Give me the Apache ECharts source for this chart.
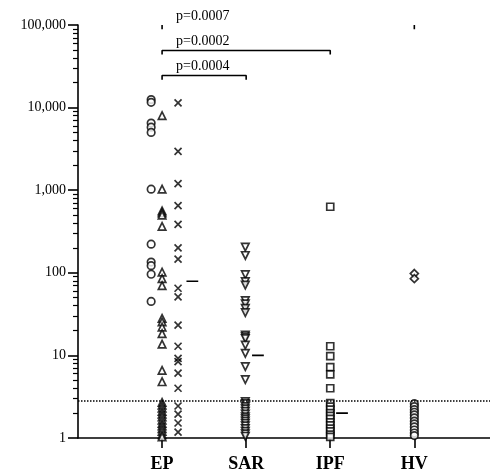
<!DOCTYPE html>
<html>
<head>
<meta charset="utf-8">
<script src="https://cdn.jsdelivr.net/npm/echarts@6/dist/echarts.min.js"></script>
<style>html,body{margin:0;padding:0;background:#fff}#c{width:490px;height:476px}</style>
</head>
<body>
<div id="c"></div>
<script>
// ---- data ----
const categories = ['EP', 'SAR', 'IPF', 'HV'];
const yTickValues = [1, 10, 100, 1000, 10000, 100000];

const epCircles = [12500, 11600, 6500, 5800, 5000, 1030, 222, 135, 122, 96, 45];
const epTriangles = [8000, 1030, 560, 530, 500, 365, 102, 85, 70, 28, 25.5, 22, 18.4, 13.7, 6.6, 4.8,
  2.7, 2.5, 2.3, 2.1, 1.95, 1.8, 1.65, 1.5, 1.4, 1.3, 1.2, 1.1, 1.03];
const epCrosses = [11400, 2950, 1200, 650, 385, 200, 146, 65, 51, 23.3, 12.9, 9.2, 8.4, 6.1, 4.0,
  2.44, 1.95, 1.52, 1.18];
const sarValues = [205, 162, 95, 78, 71, 46, 42, 37, 33, 17.6, 16.8, 16, 13.3, 10.6, 7.3, 5.1,
  2.75, 2.6, 2.4, 2.25, 2.1, 1.95, 1.8, 1.7, 1.6, 1.5, 1.4, 1.3, 1.2, 1.12, 1.05];
const ipfValues = [630, 12.9, 9.8, 7.2, 5.9, 4.0,
  2.65, 2.4, 2.2, 2.0, 1.85, 1.7, 1.55, 1.42, 1.3, 1.2, 1.1, 1.03];
const hvDiamonds = [98, 85];
const hvCircles = [2.6, 2.4, 2.2, 2.05, 1.9, 1.75, 1.6, 1.48, 1.36, 1.25, 1.15, 1.07];
const medians = [79, 10, 2];          // EP, SAR, IPF
const cutoffValue = 2.86;
const comparisons = [
  { from: 'EP', to: 'HV',  p: 'p=0.0007', level: 100000 },
  { from: 'EP', to: 'IPF', p: 'p=0.0002', level: 49200 },
  { from: 'EP', to: 'SAR', p: 'p=0.0004', level: 24500 }
];

// ---- layout/style constants ----
const FONT = 'Liberation Serif';
const X_MAX = 4.9;
const catX = c => categories.indexOf(c) + 1;
const medianSpan = [[0.29, 0.43], [0.07, 0.21], [0.07, 0.21]];
const crossPath = 'path://M0,0L10,10M10,0L0,10';
const baseStyle = { color: '#fff', borderColor: '#000', borderWidth: 1.7 };

const minorTicks = [];
for (let d = 1; d < 100000; d *= 10) for (let k = 2; k <= 9; k++) minorTicks.push(d * k);

function scatter(values, x, symbol, size, extra) {
  return Object.assign({
    type: 'scatter', xAxisIndex: 0, yAxisIndex: 0,
    data: values.map(v => [x, v]),
    symbol: symbol, symbolSize: size,
    itemStyle: Object.assign({}, baseStyle),
    emphasis: { disabled: true }, z: 3
  }, extra || {});
}

const series = [
  scatter(epCircles, 1 - 0.13, 'circle', 7.5),
  scatter(epTriangles, 1, 'triangle', 7.5),
  scatter(epCrosses, 1 + 0.19, crossPath, 7, { itemStyle: { color: 'none', borderColor: '#000', borderWidth: 1.7 } }),
  scatter(sarValues, 2 - 0.01, 'triangle', 7.5, { symbolRotate: 180 }),
  scatter(ipfValues, 3, 'rect', 7),
  scatter(hvDiamonds, 4, 'diamond', 8),
  scatter(hvCircles, 4, 'circle', 7.5)
];

medians.forEach((m, i) => {
  series.push({
    type: 'line', data: [[i + 1 + medianSpan[i][0], m], [i + 1 + medianSpan[i][1], m]],
    symbol: 'none', lineStyle: { color: '#000', width: 1.6 }, silent: true, z: 2
  });
});

// cutoff line
series.push({
  type: 'line', data: [], silent: true,
  markLine: {
    silent: true, symbol: 'none', label: { show: false },
    lineStyle: { color: '#000', type: [1.5, 1.5], width: 1.5 },
    data: [{ yAxis: cutoffValue }]
  }
});

// significance brackets
const TICK_FACTOR = 0.89;
comparisons.forEach(c => {
  const x0 = catX(c.from), x1 = catX(c.to);
  const lo = c.level * TICK_FACTOR;
  const data = c.level < 100000
    ? [[x0, lo], [x0, c.level], [x1, c.level], [x1, lo]]
    : [[x0, lo], [x0, c.level], '-', [x1, c.level], [x1, lo]];
  series.push({
    type: 'line', data: data, symbol: 'none', connectNulls: false, clip: false,
    lineStyle: { color: '#000', width: 1.6 }, silent: true
  });
});

const chart = echarts.init(document.getElementById('c'), null, { renderer: 'canvas' });
chart.setOption({
  animation: false,
  backgroundColor: '#fff',
  grid: { left: 78, right: 0, top: 25, bottom: 38 },
  xAxis: {
    type: 'value', min: 0, max: X_MAX,
    axisLine: { show: true, onZero: false, lineStyle: { color: '#000', width: 1.6 } },
    axisTick: { show: true, customValues: [1, 2, 3, 4], length: 10, lineStyle: { color: '#000', width: 1.6 } },
    axisLabel: {
      customValues: [1, 2, 3, 4], formatter: v => categories[Math.round(v) - 1] || '',
      fontFamily: FONT, fontWeight: 'bold', fontSize: 18, color: '#000', margin: 17
    },
    splitLine: { show: false }
  },
  yAxis: [{
    type: 'log', logBase: 10, min: 1, max: 100000,
    axisLine: { show: true, lineStyle: { color: '#000', width: 1.6 } },
    axisTick: { show: true, customValues: yTickValues, length: 10, lineStyle: { color: '#000', width: 1.6 } },
    axisLabel: {
      customValues: yTickValues, formatter: v => Number(v).toLocaleString('en-US'),
      fontFamily: FONT, fontSize: 14, color: '#000', margin: 12
    },
    splitLine: { show: false }
  }, {
    type: 'log', logBase: 10, min: 1, max: 100000, position: 'left',
    axisLine: { show: false },
    axisTick: { show: true, customValues: minorTicks, length: 5, lineStyle: { color: '#000', width: 1.2 } },
    axisLabel: { show: false },
    splitLine: { show: false }
  }],
  series: series
});

// p-value texts placed from data coordinates
const graphics = comparisons.map(c => {
  const pt = chart.convertToPixel({ xAxisIndex: 0, yAxisIndex: 0 }, [catX(c.from), c.level]);
  return {
    type: 'text', x: pt[0] + 14, y: pt[1] - 9,
    style: { text: c.p, fontFamily: FONT, fontSize: 14, fill: '#000', textVerticalAlign: 'middle', textAlign: 'left' },
    silent: true
  };
});
chart.setOption({ graphic: graphics });
</script>
</body>
</html>
